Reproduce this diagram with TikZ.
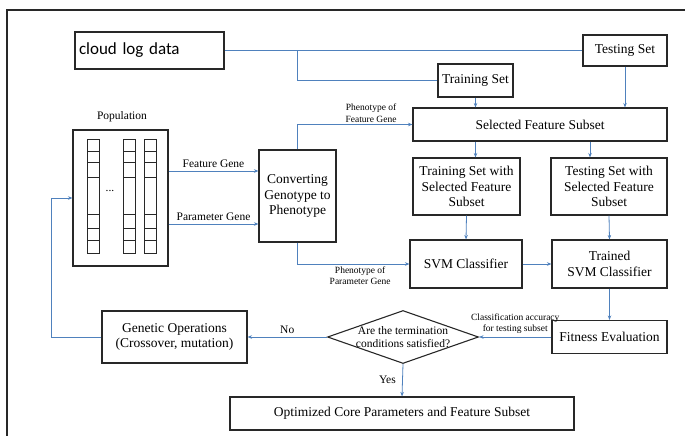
\documentclass[tikz,border=0pt]{standalone}
\usepackage{fontspec}
\setmainfont{Liberation Serif}
\newfontfamily\boxfont{Liberation Serif}
\newfontfamily\cloudfont{Carlito}
\usetikzlibrary{arrows.meta,shapes.geometric}
\definecolor{flowblue}{RGB}{79,129,189}
\definecolor{boxgray}{RGB}{40,40,40}
\tikzset{
  box/.style={draw=boxgray, line width=1.1pt, inner sep=0pt, align=center,
    font=\boxfont\fontsize{13.5}{15.5}\selectfont},
  decision/.style={diamond, draw=boxgray, line width=1.1pt, inner sep=0pt},
  flow/.style={draw=flowblue, line width=0.8pt},
  flowarrow/.style={flow, -{Stealth[length=4.5pt, width=3.5pt]}},
  lbl/.style={font=\boxfont\fontsize{11.5}{13}\selectfont},
  smalllbl/.style={font=\boxfont\fontsize{9.5}{11.5}\selectfont, align=center, inner sep=2pt}
}
\begin{document}
\begin{tikzpicture}[x=1pt, y=-1pt]
    \useasboundingbox (0,0) rectangle (685,436);
    
    % Frame
    \draw[boxgray, line width=2pt] (7,436) -- (7,10) -- (685,10);
    
    % Nodes
    \node[box, minimum width=149pt, minimum height=37pt, text width=141pt, align=left,
      font=\cloudfont\fontsize{17}{20}\selectfont] (cloud) at (149.5,50.5) {cloud log data};
    \node[box, minimum width=84pt, minimum height=31pt] (testing) at (625,50.5) {Testing Set};
    \node[box, minimum width=75pt, minimum height=33pt] (training) at (475.5,80.5) {Training Set};
    \node[box, minimum width=254pt, minimum height=33pt] (selected) at (540,124.5) {Selected Feature Subset};
    \node[lbl] (poplabel) at (122,117) {Population};
    \node[box, minimum width=95pt, minimum height=136pt] (pop) at (120.5,198) {};
    \node[box, minimum width=77pt, minimum height=92pt] (conv) at (297.5,196) {Converting\\Genotype to\\Phenotype};
    \node[box, minimum width=107pt, minimum height=57pt] (trainsel) at (466.5,186.5) {Training Set with\\Selected Feature\\Subset};
    \node[box, minimum width=116pt, minimum height=57pt] (testsel) at (609,186.5) {Testing Set with\\Selected Feature\\Subset};
    \node[box, minimum width=112pt, minimum height=48pt] (svm) at (466,264) {SVM Classifier};
    \node[box, minimum width=115pt, minimum height=48pt] (trained) at (609.5,264) {Trained\\SVM Classifier};
    \node[box, minimum width=115pt, minimum height=33pt] (fitness) at (609.5,337) {Fitness Evaluation};
    \node[decision, minimum width=151pt, minimum height=53pt] (cond) at (403,337) {};
    \node[lbl, align=center] (condtext) at (cond) {Are the termination\\conditions satisfied?};
    \node[box, minimum width=145pt, minimum height=52pt] (genetic) at (174.5,337) {Genetic Operations\\(Crossover, mutation)};
    \node[box, minimum width=344pt, minimum height=33pt] (optimized) at (402,413.5) {Optimized Core Parameters and Feature Subset};
    
    % Chromosomes in the population
    \foreach \cx in {87,123,144} {
      \draw[boxgray, line width=0.9pt] (\cx,139) rectangle (\cx+12.5,253);
      \foreach \cy in {151,162,177,214,228,240}
        \draw[boxgray, line width=0.9pt] (\cx,\cy) -- (\cx+12.5,\cy);
    }
    \node[lbl] (dots) at (110,191) {...};
    
    % Data split
    \coordinate (split) at (297,50.5);
    \draw[flow] (cloud.east) -- (testing.west);
    \draw[flow] (split) |- (training.west);
    \draw[flowarrow] (training.south) -- (training.south |- selected.north);
    \draw[flowarrow] (testing.south) -- (testing.south |- selected.north);
    
    % Genes
    \draw[flowarrow] ([yshift=27pt]pop.east) -- ([yshift=27pt]pop.east -| conv.west)
      node[lbl, midway, above] {Feature Gene};
    \draw[flowarrow] ([yshift=-26pt]pop.east) -- ([yshift=-26pt]pop.east -| conv.west)
      node[lbl, midway, above] {Parameter Gene};
    \draw[flowarrow] (conv.north) |- (selected.west)
      node[smalllbl, pos=0.82, above] {Phenotype of\\Feature Gene};
    \draw[flowarrow] (conv.south) |- (svm.west)
      node[smalllbl, pos=0.78, below] {Phenotype of\\Parameter Gene};
    
    % Classifier
    \draw[flowarrow] (selected.south -| training.south) -- (trainsel.north -| training.south);
    \draw[flowarrow] (selected.south -| 590,0) -- (trainsel.north -| 590,0);
    \draw[flowarrow] (trainsel.south) -- (svm.north);
    \draw[flowarrow] (testsel.south) -- (trained.north);
    \draw[flowarrow] (svm.east) -- (trained.west);
    \draw[flowarrow] (trained.south) -- (fitness.north);
    
    % Termination
    \draw[flowarrow] (fitness.west) -- (cond.east)
      node[smalllbl, midway, above=1pt] {Classification accuracy\\for testing subset};
    \draw[flowarrow] (cond.west) -- (genetic.east) node[lbl, midway, above] {No};
    \draw[flowarrow] (cond.south) -- (optimized.north) node[lbl, midway, left=3pt] {Yes};
    \draw[flowarrow] (genetic.west) -- ++(-50,0) |- (pop.west);
    
\end{tikzpicture}
\end{document}
